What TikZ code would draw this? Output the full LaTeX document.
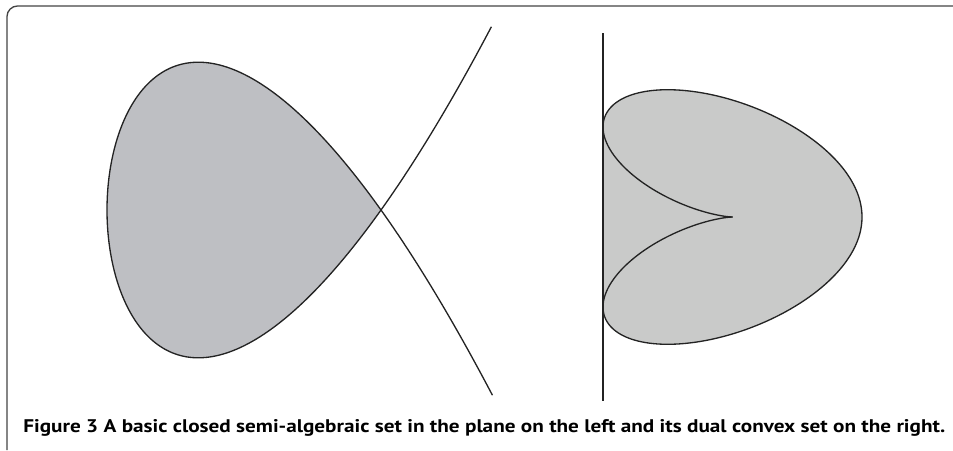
\documentclass[tikz,border=0pt]{standalone}
\usepackage{fontspec}
\newfontfamily\capfont{PT Sans}
\definecolor{loopgrey}{RGB}{190,191,195}
\definecolor{dualgrey}{RGB}{201,202,201}
\definecolor{linegrey}{RGB}{35,35,35}
\begin{document}
\begin{tikzpicture}[x=0.02cm, y=-0.02cm,
    curve/.style={draw=linegrey, line width=0.75pt, smooth},
    frameline/.style={draw=linegrey!85, line width=0.75pt, rounded corners=6}]
  \useasboundingbox (0,0) rectangle (953,450);
  % Frame of the figure
  \draw[frameline] (953,6) -- (7,6) -- (7,450);

  % Left: nodal cubic, filled loop
  \fill[loopgrey] plot[domain=-1:1, samples=200, variable=\t, smooth]
    ({381+274*(\t*\t-1)}, {210-384*\t*(\t*\t-1)}) -- cycle;
  \draw[curve] plot[domain=-1.186:1.186, samples=240, variable=\t]
    ({381+274*(\t*\t-1)}, {210-384*\t*(\t*\t-1)});

  % Right: dual convex set
  \fill[dualgrey] plot[domain=-1:1, samples=200, variable=\t, smooth]
    ({732.5-64.75*(3*\t*\t-1)/(\t*\t*\t*\t-0.5*\t*\t+0.5)},
     {217-90*\t/(\t*\t*\t*\t-0.5*\t*\t+0.5)}) -- cycle;
  \draw[curve] plot[domain=-1:1, samples=200, variable=\t]
    ({732.5-64.75*(3*\t*\t-1)/(\t*\t*\t*\t-0.5*\t*\t+0.5)},
     {217-90*\t/(\t*\t*\t*\t-0.5*\t*\t+0.5)});
  % Inner arcs meeting in the cusp
  \draw[curve] plot[domain=1:0, samples=100, variable=\s]
    ({732.5-64.75*(3*\s*\s-\s*\s*\s*\s)/(1-0.5*\s*\s+0.5*\s*\s*\s*\s)},
     {217-90*\s*\s*\s/(1-0.5*\s*\s+0.5*\s*\s*\s*\s)});
  \draw[curve] plot[domain=1:0, samples=100, variable=\s]
    ({732.5-64.75*(3*\s*\s-\s*\s*\s*\s)/(1-0.5*\s*\s+0.5*\s*\s*\s*\s)},
     {217+90*\s*\s*\s/(1-0.5*\s*\s+0.5*\s*\s*\s*\s)});
  % Dual line of the node
  \coordinate (ltop) at (603,33);
  \coordinate (lbot) at (603,401);
  \draw[linegrey, line width=0.9pt] (ltop) -- (lbot);

  % Caption
  \node[anchor=base west, inner sep=0pt] (caption) at (23,432)
    {\resizebox{18.44cm}{0.26cm}{\capfont\bfseries Figure 3 A basic closed semi-algebraic set in the plane on the left and its dual convex set on the right.}};
\end{tikzpicture}
\end{document}
